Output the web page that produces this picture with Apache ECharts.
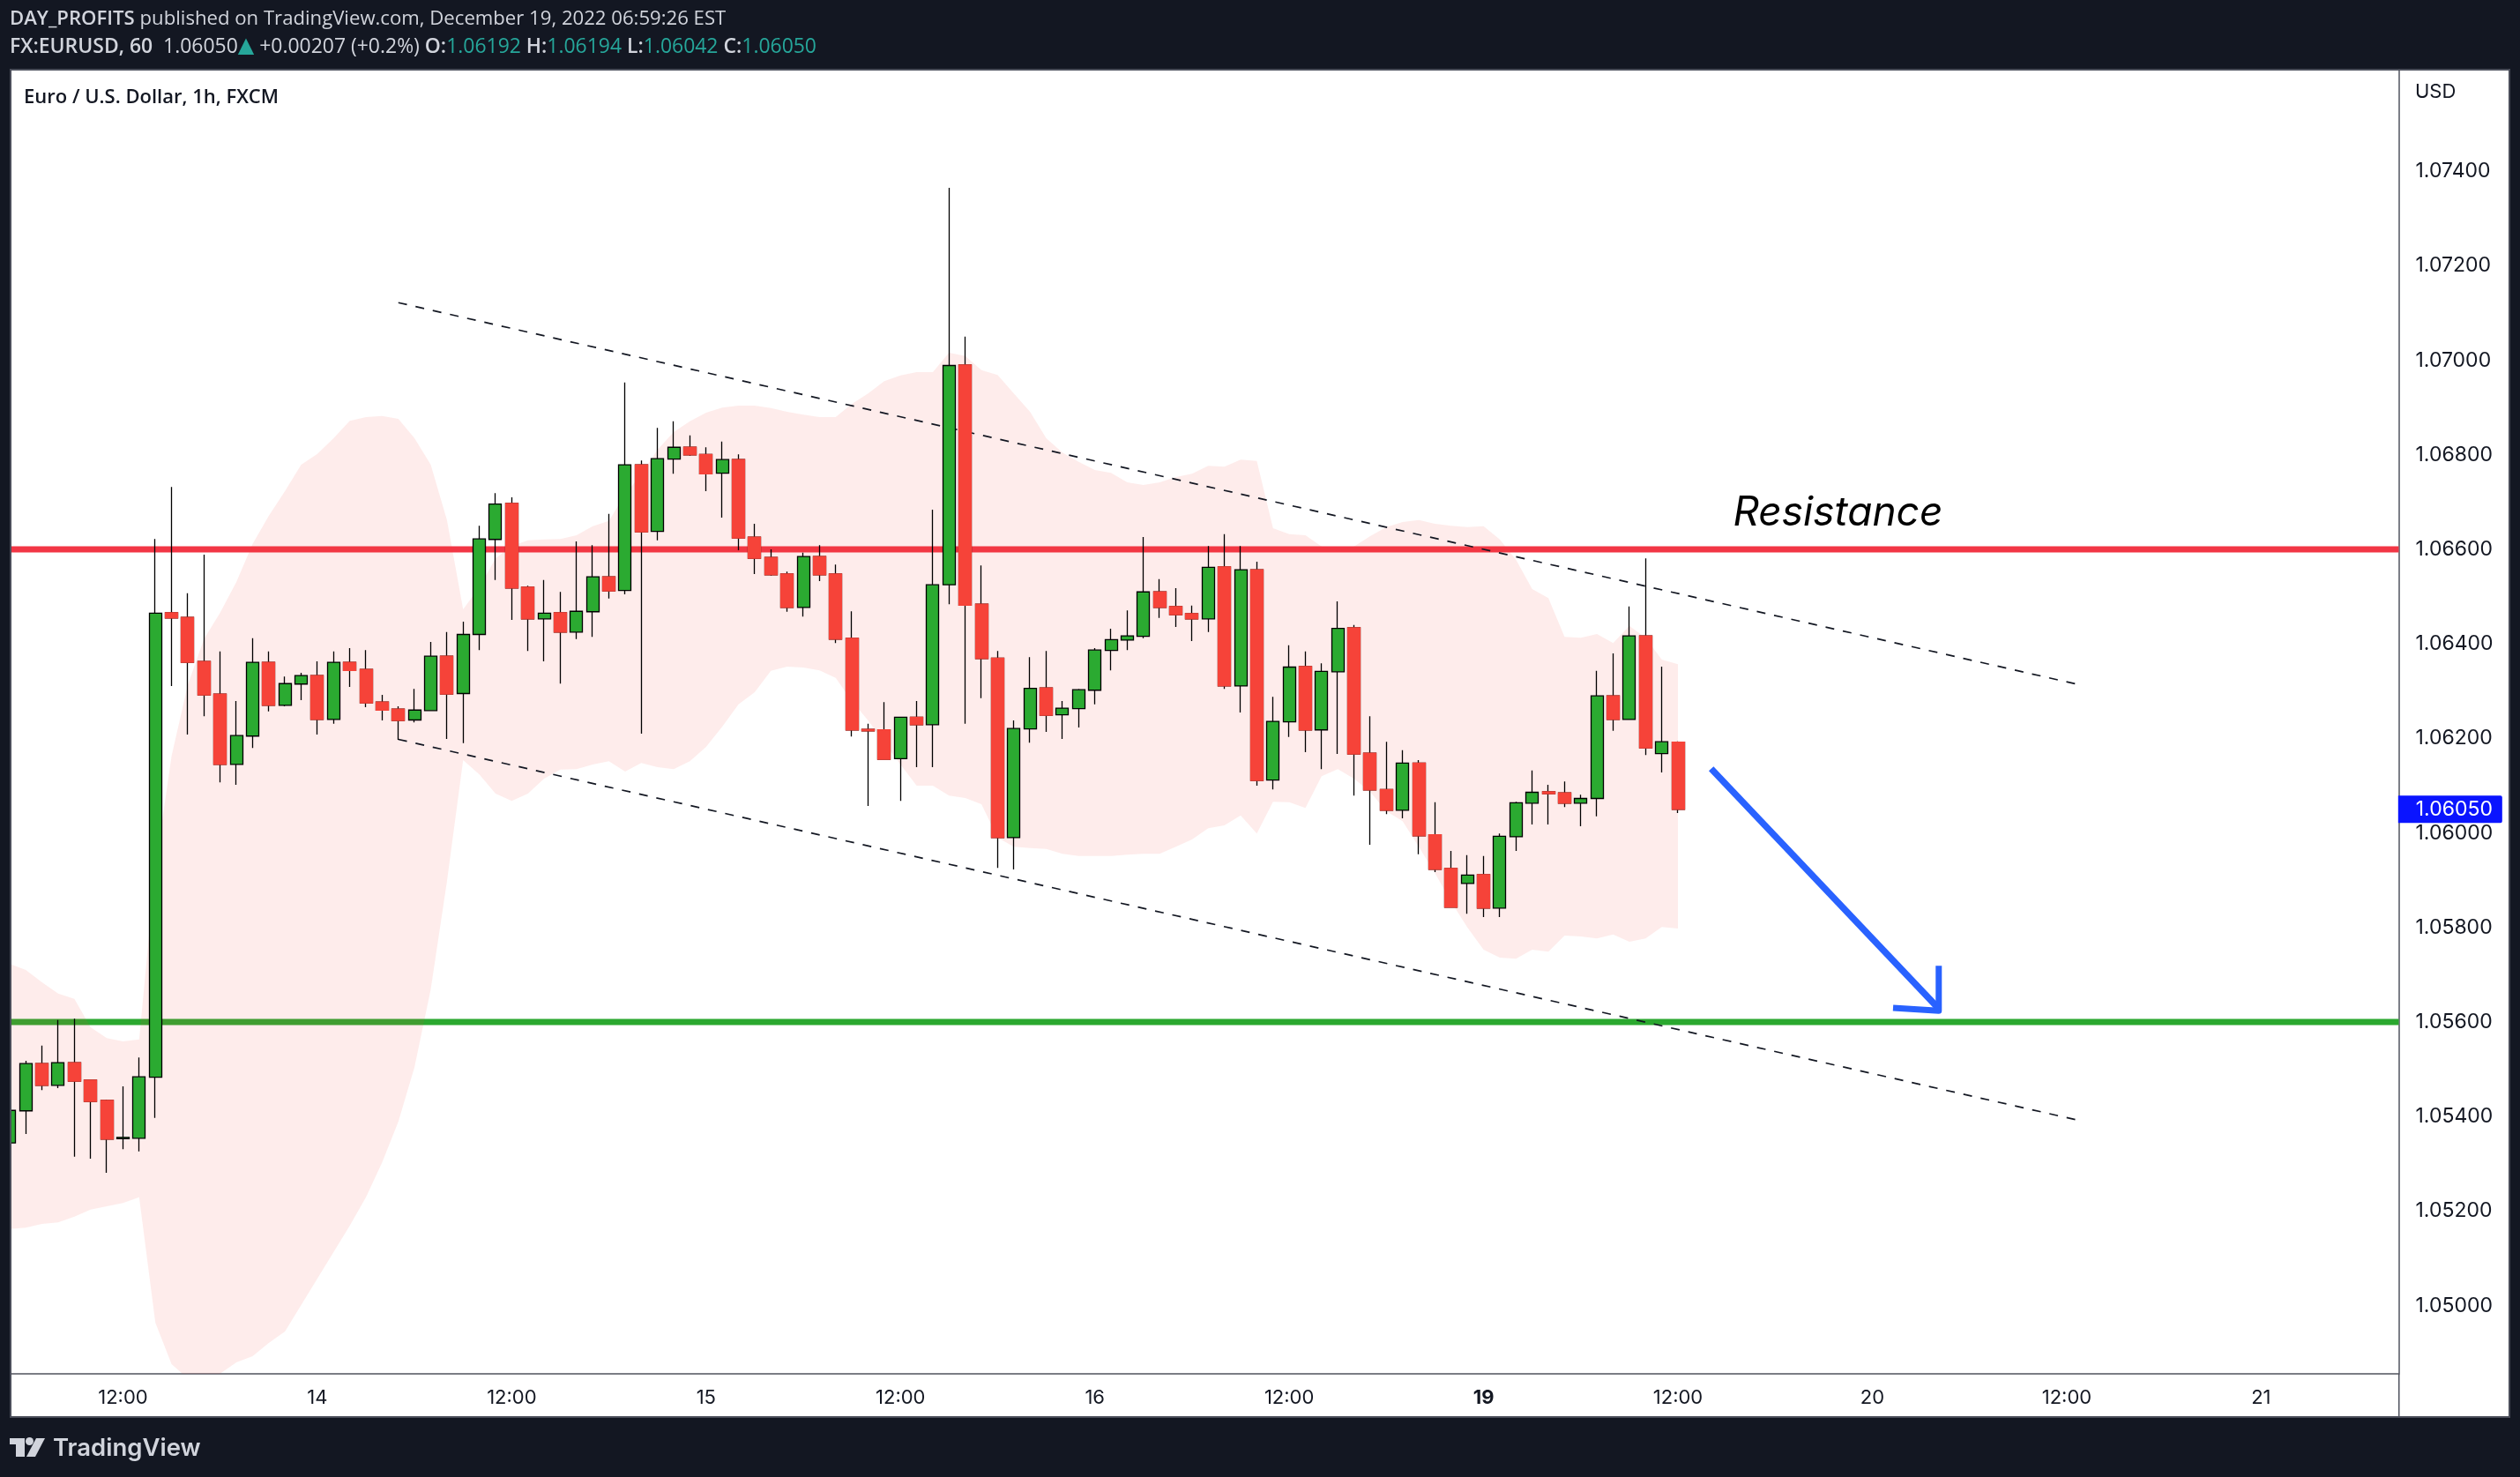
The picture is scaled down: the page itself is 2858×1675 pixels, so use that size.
<!DOCTYPE html>
<html><head><meta charset="utf-8">
<style>html,body{margin:0;padding:0;background:#131722}#c{width:2858px;height:1675px}</style>
<script src="https://cdn.jsdelivr.net/npm/echarts@6/dist/echarts.min.js"></script>
</head><body><div id="c"></div>
<script>
const opens=[1.05344,1.05412,1.05512,1.05466,1.05514,1.05477,1.05434,1.05353,1.05354,1.05483,
1.06466,1.06456,1.06363,1.06294,1.06145,1.06205,1.06361,1.06270,1.06315,1.06333,
1.06240,1.06361,1.06346,1.06277,1.06262,1.06239,1.06259,1.06374,1.06295,1.06420,
1.06621,1.06697,1.06520,1.06453,1.06466,1.06425,1.06468,1.06542,1.06513,1.06779,
1.06638,1.06791,1.06816,1.06801,1.06761,1.06790,1.06626,1.06583,1.06548,1.06477,
1.06585,1.06548,1.06412,1.06219,1.06218,1.06157,1.06245,1.06229,1.06525,1.06990,
1.06484,1.06370,1.05990,1.06220,1.06307,1.06250,1.06263,1.06302,1.06386,1.06408,
1.06416,1.06510,1.06479,1.06464,1.06453,1.06563,1.06311,1.06557,1.06112,1.06235,
1.06352,1.06218,1.06341,1.06434,1.06169,1.06092,1.06048,1.06148,1.05996,1.05925,
1.05893,1.05912,1.05841,1.05992,1.06063,1.06087,1.06085,1.06063,1.06073,1.06290,
1.06240,1.06417,1.06168,1.06192];
const highs=[1.05415,1.05518,1.05550,1.05604,1.05607,1.05477,1.05436,1.05464,1.05525,1.06622,
1.06732,1.06507,1.06589,1.06384,1.06279,1.06412,1.06384,1.06331,1.06339,1.06363,
1.06384,1.06391,1.06387,1.06292,1.06268,1.06305,1.06404,1.06425,1.06447,1.06650,
1.06719,1.06710,1.06523,1.06535,1.06510,1.06617,1.06609,1.06675,1.06953,1.06788,
1.06857,1.06871,1.06841,1.06816,1.06828,1.06801,1.06654,1.06600,1.06553,1.06593,
1.06609,1.06568,1.06469,1.06231,1.06277,1.06246,1.06279,1.06684,1.07365,1.07050,
1.06566,1.06385,1.06238,1.06372,1.06385,1.06279,1.06305,1.06391,1.06432,1.06471,
1.06626,1.06537,1.06518,1.06481,1.06607,1.06632,1.06607,1.06574,1.06288,1.06397,
1.06384,1.06359,1.06490,1.06440,1.06247,1.06193,1.06175,1.06154,1.06065,1.05962,
1.05953,1.05951,1.05999,1.06066,1.06132,1.06102,1.06109,1.06081,1.06343,1.06380,
1.06479,1.06581,1.06352,1.06194];
const lows=[1.05335,1.05363,1.05456,1.05460,1.05315,1.05311,1.05281,1.05331,1.05326,1.05397,
1.06311,1.06208,1.06247,1.06107,1.06102,1.06180,1.06257,1.06268,1.06281,1.06208,
1.06231,1.06309,1.06266,1.06238,1.06197,1.06234,1.06258,1.06199,1.06190,1.06387,
1.06535,1.06451,1.06385,1.06363,1.06316,1.06410,1.06415,1.06496,1.06505,1.06210,
1.06619,1.06760,1.06798,1.06723,1.06667,1.06598,1.06548,1.06544,1.06468,1.06458,
1.06533,1.06402,1.06204,1.06057,1.06155,1.06068,1.06139,1.06139,1.06484,1.06231,
1.06285,1.05926,1.05923,1.06191,1.06214,1.06199,1.06223,1.06272,1.06344,1.06387,
1.06412,1.06455,1.06436,1.06406,1.06425,1.06305,1.06255,1.06100,1.06092,1.06203,
1.06171,1.06135,1.06167,1.06079,1.05975,1.06040,1.06031,1.05955,1.05917,1.05842,
1.05829,1.05822,1.05822,1.05962,1.06018,1.06018,1.06055,1.06014,1.06035,1.06216,
1.06239,1.06165,1.06128,1.06042];
const closes=[1.05413,1.05512,1.05466,1.05514,1.05475,1.05432,1.05352,1.05356,1.05484,1.06465,
1.06455,1.06361,1.06292,1.06145,1.06206,1.06361,1.06270,1.06316,1.06333,1.06240,
1.06361,1.06344,1.06275,1.06260,1.06238,1.06260,1.06374,1.06294,1.06420,1.06622,
1.06696,1.06518,1.06453,1.06465,1.06425,1.06469,1.06542,1.06512,1.06779,1.06637,
1.06792,1.06816,1.06800,1.06760,1.06790,1.06624,1.06581,1.06546,1.06477,1.06585,
1.06546,1.06410,1.06218,1.06216,1.06156,1.06245,1.06229,1.06525,1.06989,1.06482,
1.06369,1.05990,1.06221,1.06306,1.06249,1.06264,1.06303,1.06387,1.06409,1.06417,
1.06510,1.06477,1.06462,1.06453,1.06562,1.06311,1.06557,1.06111,1.06236,1.06351,
1.06218,1.06342,1.06433,1.06167,1.06091,1.06048,1.06148,1.05994,1.05923,1.05843,
1.05911,1.05841,1.05993,1.06064,1.06086,1.06083,1.06063,1.06073,1.06290,1.06240,
1.06417,1.06180,1.06193,1.06050];
const bandUpper=[1.05723,1.05710,1.05684,1.05660,1.05649,1.05589,1.05566,1.05559,1.05563,1.05925,
1.06163,1.06313,1.06410,1.06466,1.06531,1.06611,1.06671,1.06723,1.06779,1.06802,
1.06835,1.06872,1.06880,1.06882,1.06876,1.06835,1.06779,1.06662,1.06473,1.06520,
1.06581,1.06607,1.06619,1.06621,1.06622,1.06630,1.06649,1.06660,1.06716,1.06759,
1.06811,1.06848,1.06871,1.06889,1.06900,1.06904,1.06904,1.06899,1.06891,1.06885,
1.06880,1.06880,1.06908,1.06930,1.06956,1.06968,1.06975,1.06975,1.07016,1.07009,
1.06979,1.06969,1.06930,1.06891,1.06835,1.06805,1.06785,1.06768,1.06762,1.06742,
1.06736,1.06742,1.06753,1.06760,1.06777,1.06775,1.06790,1.06787,1.06645,1.06632,
1.06630,1.06606,1.06596,1.06606,1.06628,1.06647,1.06658,1.06662,1.06654,1.06650,
1.06647,1.06649,1.06621,1.06578,1.06516,1.06497,1.06415,1.06413,1.06421,1.06402,
1.06438,1.06413,1.06367,1.06357];
const bandLower=[1.05162,1.05165,1.05173,1.05176,1.05188,1.05203,1.05210,1.05217,1.05229,1.04964,
1.04876,1.04846,1.04841,1.04856,1.04880,1.04893,1.04921,1.04945,1.05001,1.05057,
1.05113,1.05169,1.05229,1.05303,1.05389,1.05505,1.05669,1.05897,1.06154,1.06124,
1.06083,1.06068,1.06083,1.06115,1.06134,1.06135,1.06145,1.06152,1.06130,1.06148,
1.06139,1.06135,1.06152,1.06182,1.06225,1.06272,1.06298,1.06343,1.06352,1.06350,
1.06344,1.06328,1.06279,1.06238,1.06191,1.06145,1.06100,1.06100,1.06079,1.06074,
1.06061,1.05990,1.05971,1.05968,1.05966,1.05956,1.05951,1.05951,1.05951,1.05954,
1.05956,1.05956,1.05971,1.05986,1.06010,1.06016,1.06037,1.05999,1.06066,1.06065,
1.06053,1.06120,1.06135,1.06115,1.06087,1.06046,1.06025,1.05971,1.05915,1.05854,
1.05800,1.05753,1.05736,1.05734,1.05753,1.05749,1.05783,1.05781,1.05777,1.05785,
1.05770,1.05777,1.05801,1.05798];
const resistance=1.066, support=1.056, lastClose=1.0605;
const upperTrend=[[24,1.07122],[127.6,1.06315]];
const lowerTrend=[[24,1.06198],[127.6,1.05393]];
const arrowShaft=[[105.05,1.06136],[119.05,1.05630]];
const arrowHead=[[119.1,1.05719],[119.1,1.05624],[116.28,1.05630]];
const resistanceLabel=[[106.37,1.06676]];
const priceTicks=[1.05,1.052,1.054,1.056,1.058,1.06,1.062,1.064,1.066,1.068,1.07,1.072,1.074];
const timeTicks={7:'12:00',19:'14',31:'12:00',43:'15',55:'12:00',67:'16',79:'12:00',91:'19',103:'12:00',115:'20',127:'12:00',139:'21'};
const slots=148;
const categories=Array.from({length:slots},(_,i)=>String(i));

const AF='Inter, Roboto, sans-serif', HF='"Open Sans", "Noto Sans", sans-serif';
const DARK='#131722', EDGE='#4a4d59', LIGHT='#d1d4dc', TEAL='#26a69a';
const GREEN='#2BAA31', RED='#F64339';
const candleAll=opens.map((o,i)=>[o,closes[i],lows[i],highs[i]]);
const candleRed=opens.map((o,i)=>closes[i]<o?[o,closes[i],closes[i],o]:[NaN,NaN,NaN,NaN]);
const xHours={type:'value',min:-0.5,max:slots-0.5,show:false};

function rect(x,y,w,h,fill){return {type:'rect',silent:true,z:100,shape:{x,y,width:w,height:h},style:{fill}};}
function txt(x,y,text,extra){return {type:'text',silent:true,z:101,x,y,style:Object.assign({text,fill:LIGHT,fontFamily:HF,fontSize:22.15,verticalAlign:'middle'},extra||{})};}

const graphics=[
 rect(0,0,2858,78,DARK),rect(0,1608,2858,67,DARK),rect(0,0,11,1675,DARK),rect(2847,0,11,1675,DARK),
 rect(11,78,2836,2,EDGE),rect(11,1606,2836,2,EDGE),rect(11,78,2,1530,EDGE),rect(2845,78,2,1530,EDGE),
 rect(2720,1558,1.5,48,'#50535e'),
 txt(11,22,'{b|DAY_PROFITS} published on TradingView.com, December 19, 2022 06:59:26 EST',{rich:{b:{fontFamily:HF,fontSize:22.15,fontWeight:600,fill:LIGHT}}}),
 txt(11,53,'{b|FX:EURUSD, 60}  1.06050{t|▲} +0.00207 (+0.2%) {b|O:}{v|1.06192} {b|H:}{v|1.06194} {b|L:}{v|1.06042} {b|C:}{v|1.06050}',
   {fontSize:22.95,rich:{b:{fontFamily:HF,fontSize:22.95,fontWeight:600,fill:LIGHT},v:{fontFamily:HF,fontSize:22.95,fill:TEAL},t:{fontFamily:'DejaVu Sans',fontSize:24,fill:TEAL}}}),
 txt(27,110.5,'Euro / U.S. Dollar, 1h, FXCM',{fill:'#131722',fontWeight:600,fontSize:22}),
 txt(2739,104.5,'USD',{fill:'#131722',fontFamily:AF,fontSize:22}),
 rect(11,1631,17,7,LIGHT),rect(18,1631,10,21,LIGHT),
 {type:'circle',silent:true,z:100,shape:{cx:33.5,cy:1634.5,r:4.5},style:{fill:LIGHT}},
 {type:'polygon',silent:true,z:100,shape:{points:[[41,1631],[51,1631],[40,1652],[30,1652]]},style:{fill:LIGHT}},
 txt(60,1643,'TradingView',{fontFamily:AF,fontSize:27.5,fontWeight:600})
];

const option={
 animation:false,
 backgroundColor:'#ffffff',
 graphic:{elements:graphics},
 grid:{left:1.7,top:80,width:2718.8,height:1478,containLabel:false},
 xAxis:[
  {type:'category',data:categories,boundaryGap:true,
   axisLine:{show:true,lineStyle:{color:'#50535e',width:1.5}},axisTick:{show:false},splitLine:{show:false},
   axisLabel:{interval:(i)=>timeTicks[i]!==undefined,margin:16,color:'#131722',fontFamily:AF,fontSize:22,
     formatter:(v,i)=>{const t=timeTicks[i]||'';return t==='19'?'{b|19}':t;},rich:{b:{fontWeight:700,fontFamily:AF,fontSize:22,color:'#131722'}}}},
  xHours
 ],
 yAxis:[{type:'value',position:'right',min:1.048556,max:1.076131,scale:true,
   axisLine:{show:true,onZero:false,lineStyle:{color:'#50535e',width:1.5}},axisTick:{show:false},splitLine:{show:false},
   axisLabel:{customValues:priceTicks,margin:19,color:'#131722',fontFamily:AF,fontSize:23,formatter:v=>Number(v).toFixed(5)}}],
 series:[
  {name:'Resistance level',type:'line',xAxisIndex:1,z:1,symbol:'none',lineStyle:{color:'#F23645',width:7},
   data:[[-0.5,resistance],[slots-0.5,resistance]]},
  {name:'Support level',type:'line',xAxisIndex:1,z:1,symbol:'none',lineStyle:{color:'#2BA82F',width:7},
   data:[[-0.5,support],[slots-0.5,support]]},
  {name:'Band base',type:'line',stack:'band',z:2,symbol:'none',lineStyle:{width:0,opacity:0},data:bandLower},
  {name:'Band',type:'line',stack:'band',z:2,symbol:'none',lineStyle:{width:0,opacity:0},
   areaStyle:{color:'rgba(244,67,54,0.1)',opacity:1},data:bandUpper.map((u,i)=>+(u-bandLower[i]).toFixed(5))},
  {name:'Upper trend',type:'line',xAxisIndex:1,z:3,symbol:'none',lineStyle:{color:'#131722',width:1.7,type:[10,10]},data:upperTrend},
  {name:'Lower trend',type:'line',xAxisIndex:1,z:3,symbol:'none',lineStyle:{color:'#131722',width:1.7,type:[10,10]},data:lowerTrend},
  {name:'Arrow shaft',type:'line',xAxisIndex:1,z:4,symbol:'none',lineStyle:{color:'#2962FF',width:7.5},data:arrowShaft},
  {name:'Arrow head',type:'line',xAxisIndex:1,z:4,symbol:'none',lineStyle:{color:'#2962FF',width:7,join:'round'},data:arrowHead},
  {name:'EURUSD',type:'candlestick',z:5,barWidth:14.5,
   itemStyle:{color:GREEN,color0:RED,borderColor:'#000',borderColor0:'#000',borderColorDoji:'#000',borderWidth:1.3},
   data:candleAll},
  {name:'EURUSD down bodies',type:'candlestick',z:6,barWidth:14.5,
   itemStyle:{color:GREEN,color0:RED,borderColor:RED,borderColor0:RED,borderWidth:1.3},
   data:candleRed,
   markPoint:{silent:true,symbol:'path://M0 0H116a2 2 0 0 1 2 2V29a2 2 0 0 1-2 2H0Z',symbolSize:[118,31],symbolOffset:[67.5,0],
     label:{show:true,position:'inside',offset:[4.5,0],color:'#fff',fontFamily:AF,fontSize:23,formatter:()=>lastClose.toFixed(5)},
     itemStyle:{color:'#0A14FF',borderWidth:0},
     data:[{xAxis:categories[slots-1],yAxis:lastClose}]}},
  {name:'Note',type:'scatter',xAxisIndex:1,z:7,symbolSize:1,itemStyle:{color:'rgba(0,0,0,0)'},
   label:{show:true,position:'right',distance:0,color:'#000000',opacity:1,fontFamily:AF,fontStyle:'italic',fontSize:46,formatter:'Resistance'},
   emphasis:{disabled:true},
   data:resistanceLabel}
 ]
};
const chart=echarts.init(document.getElementById('c'),null,{renderer:'canvas'});
chart.setOption(option);
</script></body></html>
